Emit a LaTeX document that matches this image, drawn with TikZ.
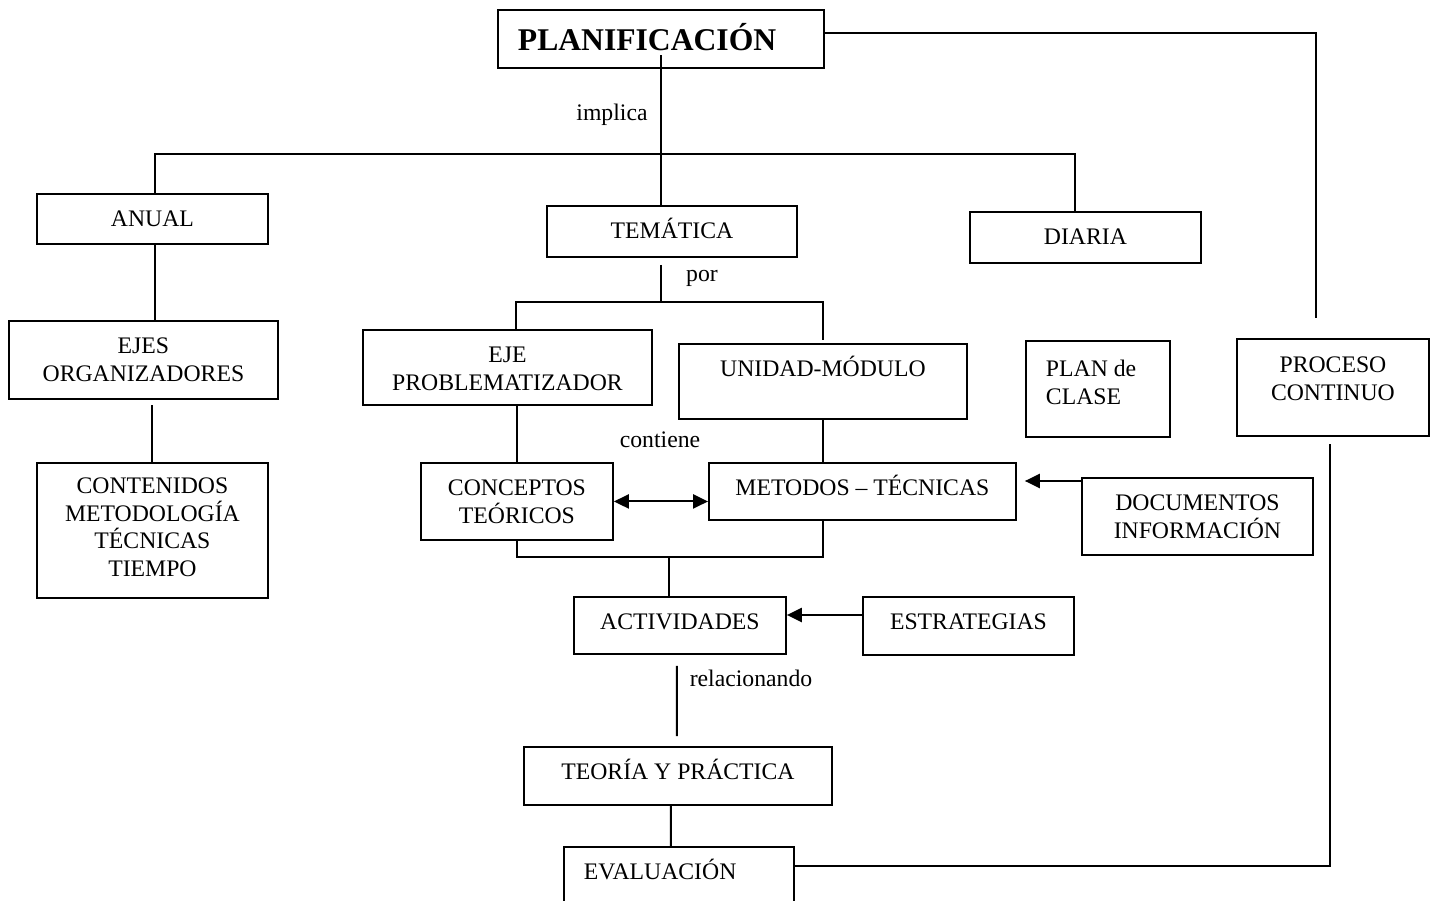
\documentclass[tikz,border=0pt]{standalone}
\usepackage{fontspec}
\setmainfont{Liberation Serif}
\usepackage{tikz}
\usetikzlibrary{arrows.meta}
\usetikzlibrary{calc}
\tikzset{
    every node/.style={font=\fontsize{13.5}{15.6}\selectfont},
    oneway/.style={-{Triangle[length=8.5pt, width=8pt]}},
    twoway/.style={{Triangle[length=8.5pt, width=8pt]}-{Triangle[length=8.5pt, width=8pt]}}
}

\begin{document}
\begin{tikzpicture}[x=0.02cm, y=-0.02cm, line width=1.1pt]
  % Define styles for boxes
  \tikzset{
    box/.style={
      draw,
      rectangle,
      anchor=north west,
      align=flush center,
      inner xsep=0pt,
      inner ysep=0pt,
      text height=0.66cm
    },
    lbl/.style={
      inner sep=0pt
    }
  }
  \useasboundingbox (0,0) rectangle (1436,901);

  % Top
  \node[box, text width=5.72cm, inner xsep=0.4cm, align=flush left, text height=0.82cm, text depth=0.34cm, font=\fontsize{18}{21}\selectfont\bfseries] (plan) at (497,9) {PLANIFICACIÓN};

  % Kinds of planning
  \node[box, text width=4.62cm, text depth=0.34cm] (anual) at (36,193) {ANUAL};
  \node[box, text width=5.0cm, text depth=0.36cm] (tema) at (546,205) {TEMÁTICA};
  \node[box, text width=4.62cm, text depth=0.36cm] (diaria) at (969,211) {DIARIA};

  % Left column
  \node[box, text width=5.38cm, text depth=0.9cm] (ejes) at (8,320) {EJES\\ORGANIZADORES};
  \node[box, text width=4.62cm, text height=0.62cm, text depth=2.08cm] (conten) at (36,462) {CONTENIDOS\\METODOLOGÍA\\TÉCNICAS\\TIEMPO};

  % Middle
  \node[box, text width=5.78cm, text depth=0.84cm] (ejeprob) at (362,329) {EJE\\PROBLEMATIZADOR};
  \node[box, text width=5.76cm, text depth=0.84cm] (unidad) at (678,343) {UNIDAD-MÓDULO};
  \node[box, text width=3.84cm, text depth=0.88cm] (concep) at (420,462) {CONCEPTOS\\TEÓRICOS};
  \node[box, text width=6.14cm, text depth=0.48cm] (metodos) at (708,462) {METODOS – TÉCNICAS};
  \node[box, text width=4.24cm, text depth=0.48cm] (activ) at (573,596) {ACTIVIDADES};
  \node[box, text width=4.22cm, text depth=0.5cm] (estrat) at (862,596) {ESTRATEGIAS};
  \node[box, text width=6.16cm, text depth=0.5cm] (teoria) at (523,746) {TEORÍA Y PRÁCTICA};
  \node[box, text width=3.8cm, inner xsep=0.4cm, align=flush left, text depth=0.74cm] (evalua) at (563,846) {EVALUACIÓN};

  % Right
  \node[box, text width=2.08cm, inner xsep=0.4cm, align=flush left, text height=0.72cm, text depth=1.2cm] (planclase) at (1025,340) {PLAN de\\CLASE};
  \node[box, text width=3.84cm, text height=0.68cm, text depth=1.26cm] (proceso) at (1236,338) {PROCESO\\CONTINUO};
  \node[box, text width=4.62cm, text depth=0.88cm] (docs) at (1081,477) {DOCUMENTOS\\INFORMACIÓN};

  % Link words
  \node[lbl] (implica) at (612,115) {implica};
  \node[lbl] (por) at (702,278) {por};
  \node[lbl] (contiene) at (660,440) {contiene};
  \node[lbl] (relac) at (751,678) {relacionando};

  % Corner points
  \coordinate (barL) at (155,154);
  \coordinate (barR) at (1075,154);
  \coordinate (topR) at (1316,33);
  \coordinate (midR) at (1316,318);
  \coordinate (lowR) at (1330,866);
  \coordinate (upR) at (1330,444);
  \coordinate (splitL) at (516,302);
  \coordinate (splitM) at (661,302);
  \coordinate (splitR) at (823,302);
  \coordinate (joinM) at (669,557);
  \coordinate (joinR) at (823,557);
  \coordinate (docsin) at ($(docs.north west)+(0,4)$);
  \coordinate (estin) at ($(estrat.north west)+(0,19)$);

  % PLANIFICACIÓN to the three kinds
  \draw ([yshift=0.27cm]plan.south) -- (plan.south |- tema.north);
  \draw (barL |- anual.north) -- (barL) -- (barR) -- (barR |- diaria.north);
  \draw (plan.east |- topR) -- (topR) -- (midR);

  % Left column
  \draw (barL |- anual.south) -- (barL |- ejes.north);
  \draw (conten.north) -- ($(ejes.south -| conten.north)+(0,5)$);

  % Middle
  \draw ($(tema.south -| splitM)+(0,7)$) -- (splitM);
  \draw (splitL |- ejeprob.north) -- (splitL) -- (splitR) -- ($(splitR |- unidad.north)+(0,-3)$);
  \draw (concep.north) -- (concep.north |- ejeprob.south);
  \draw (unidad.south) -- (unidad.south |- metodos.north);
  \draw[twoway] (concep.east) -- (concep.east -| metodos.west);
  \draw[oneway] (docsin) -- ($(docsin -| metodos.east)+(8,0)$);
  \draw (concep.south) |- (joinR) -- (joinR |- metodos.south);
  \draw (joinM) -- (joinM |- activ.north);
  \draw[oneway] (estin) -- (estin -| activ.east);
  \draw ($(activ.south)+(-3,11)$) -- ($(teoria.north)+(-1,-10)$);
  \draw ($(teoria.south)+(-7,0)$) -- ($(evalua.north)+(-8,0)$);

  % EVALUACIÓN back up to PROCESO CONTINUO
  \draw (evalua.east |- lowR) -- (lowR) -- (upR);
\end{tikzpicture}
\end{document}
